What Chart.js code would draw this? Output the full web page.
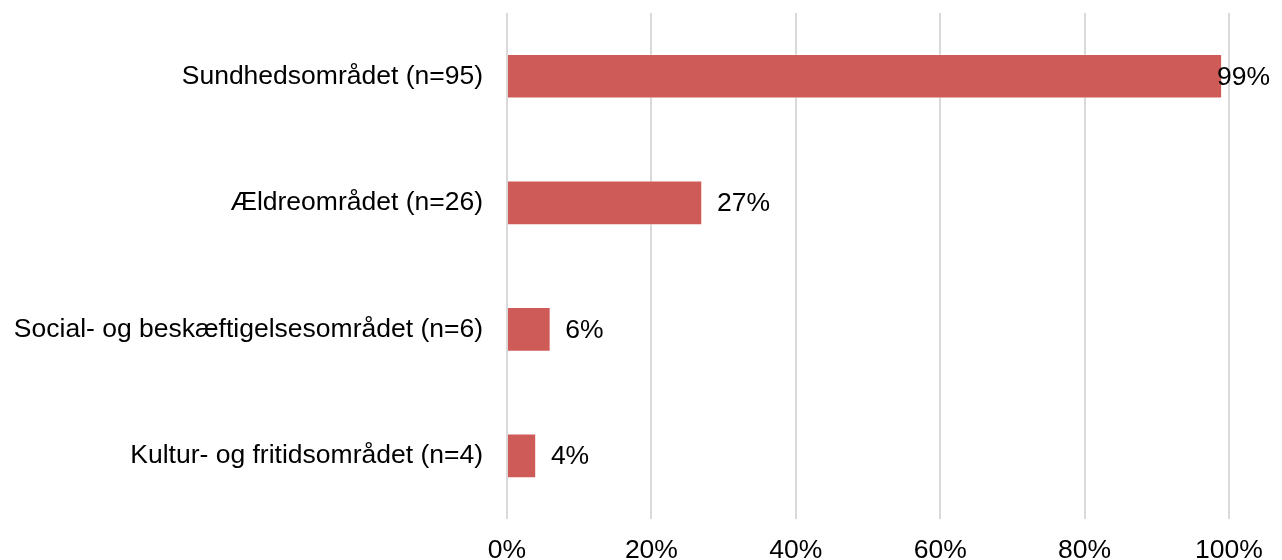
<!DOCTYPE html>
<html>
<head>
<meta charset="utf-8">
<script src="https://cdn.jsdelivr.net/npm/chart.js@4"></script>
<style>
  html, body { margin: 0; padding: 0; background: #fff; overflow: hidden; }
  #wrap { width: 1282px; height: 583px; position: relative; }
</style>
</head>
<body>
<div id="wrap"><canvas id="chart"></canvas></div>
<script>
const categories = [
  "Sundhedsområdet (n=95)",
  "Ældreområdet (n=26)",
  "Social- og beskæftigelsesområdet (n=6)",
  "Kultur- og fritidsområdet (n=4)"
];
const shares = [99, 27, 6, 4];
const xTicks = [0, 20, 40, 60, 80, 100];

const FONT = "'Liberation Sans', Arial, sans-serif";
const SIZE = 26.5;

// writes the percentage just right of each bar, kept inside the canvas
const valueLabels = {
  id: "valueLabels",
  afterDatasetsDraw(chart) {
    const ctx = chart.ctx;
    const meta = chart.getDatasetMeta(0);
    ctx.save();
    ctx.font = SIZE + "px " + FONT;
    ctx.fillStyle = "#000";
    ctx.textBaseline = "middle";
    ctx.textAlign = "left";
    meta.data.forEach((bar, i) => {
      const txt = shares[i] + "%";
      const w = ctx.measureText(txt).width;
      const x = Math.min(bar.x + 15, chart.width - 12 - w);
      ctx.fillText(txt, x, bar.y + 1);
    });
    ctx.restore();
  }
};

new Chart(document.getElementById("chart"), {
  type: "bar",
  data: {
    labels: categories,
    datasets: [{
      data: shares,
      backgroundColor: "#CF5B58",
      borderColor: "rgba(255,255,255,0.35)",
      borderWidth: 1,
      barThickness: 44
    }]
  },
  options: {
    indexAxis: "y",
    responsive: true,
    maintainAspectRatio: false,
    animation: false,
    layout: { padding: { top: 13, right: 53, left: 0, bottom: 0 } },
    plugins: {
      legend: { display: false },
      tooltip: { enabled: false }
    },
    scales: {
      x: {
        min: 0,
        max: 100,
        afterBuildTicks(scale) {
          scale.ticks = xTicks.map(v => ({ value: v }));
        },
        border: { display: false },
        grid: { color: "#d9d9d9", lineWidth: 2, drawTicks: false },
        ticks: {
          padding: 16,
          color: "#000",
          font: { family: FONT, size: SIZE },
          callback: v => v + "%"
        }
      },
      y: {
        afterFit(scale) {
          scale.width = 507;
          scale.paddingTop = 0;
          scale.paddingBottom = 0;
        },
        border: { display: false },
        grid: { display: false, drawTicks: false },
        ticks: {
          padding: 24,
          color: "#000",
          font: { family: FONT, size: SIZE }
        }
      }
    }
  },
  plugins: [valueLabels]
});
</script>
</body>
</html>
